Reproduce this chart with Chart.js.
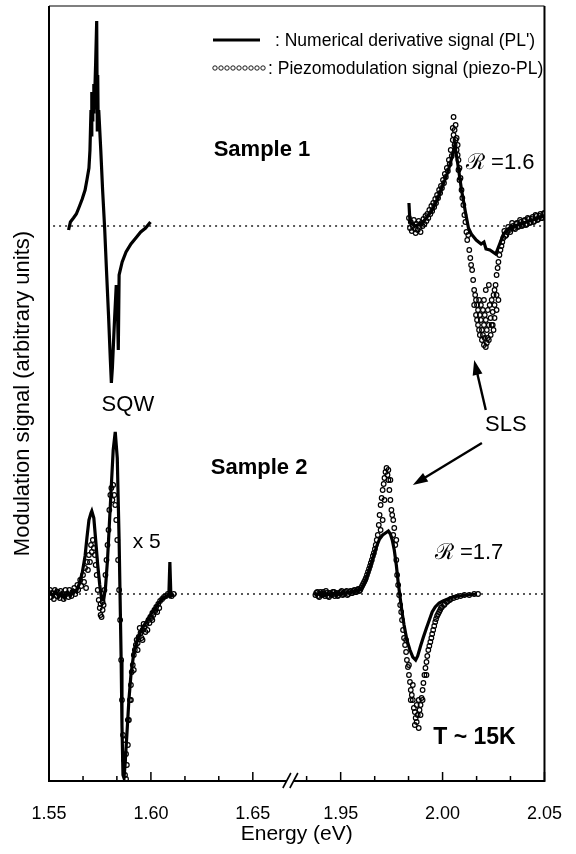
<!DOCTYPE html>
<html>
<head>
<meta charset="utf-8">
<script src="https://cdn.jsdelivr.net/npm/chart.js@4.4.1/dist/chart.umd.min.js"></script>
<style>
  html, body { margin: 0; padding: 0; background: #fff; }
  #wrap { width: 576px; height: 854px; position: relative; }
</style>
</head>
<body>
<div id="wrap"><canvas id="chart"></canvas></div>
<script>
// energies in eV, signals in arbitrary units measured from each sample's zero line

// Sample 1, SQW: numerical derivative (PL')
const s1SqwE = [
  1.5596, 1.5605, 1.5620, 1.5634, 1.5648, 1.5663, 1.5677, 1.5686, 1.5696, 1.5701,
  1.5706, 1.5708, 1.5710, 1.5713, 1.5715, 1.5718, 1.5720, 1.5723, 1.5725, 1.5729,
  1.5734, 1.5737, 1.5739, 1.5741, 1.5744, 1.5754, 1.5763, 1.5773, 1.5782, 1.5792,
  1.5801, 1.5806, 1.5811, 1.5821, 1.5830, 1.5835, 1.5840, 1.5844, 1.5859, 1.5878,
  1.5902, 1.5926, 1.5950, 1.5974, 1.5998];
const s1SqwDeriv = [
  -0.4, 0.4, 0.8, 1.2, 1.9, 2.7, 3.6, 4.6, 5.8, 7.6,
  11.6, 9.1, 13.4, 10.6, 12.9, 11.4, 14.2, 11.8, 13.6, 16.4,
  20.5, 9.6, 15.1, 10.9, 11.6, 7.6, 3.6, -0.2, -4.4, -8.9,
  -13.4, -15.7, -14.2, -9.6, -5.9, -7.4, -12.4, -4.9, -3.6, -2.6,
  -1.8, -1.2, -0.6, -0.2, 0.4];

// Sample 1, SLS: derivative
const s1SlsE = [
  1.9835, 1.9840, 1.9864, 1.9892, 1.9921, 1.9950, 1.9978, 2.0002, 2.0026, 2.0045,
  2.0060, 2.0074, 2.0093, 2.0112, 2.0127, 2.0141, 2.0165, 2.0189, 2.0203, 2.0213,
  2.0232, 2.0261, 2.0280, 2.0299, 2.0323, 2.0356, 2.0395, 2.0443, 2.0500];
const s1SlsDeriv = [
  2.3, 0.4, 0.0, 0.2, 0.8, 1.6, 2.8, 4.1, 5.4, 6.8,
  8.1, 6.3, 3.6, 1.4, -0.2, -0.8, -1.4, -1.8, -1.6, -2.3,
  -2.4, -2.8, -1.8, -0.8, -0.3, 0.0, 0.3, 0.6, 1.0];

// Sample 1, SLS: piezomodulation (piezo-PL)
const s1SlsPiezoE = [
  1.9835, 1.9840, 1.9844, 1.9849, 1.9854, 1.9859, 1.9864, 1.9868, 1.9873, 1.9878,
  1.9883, 1.9887, 1.9892, 1.9897, 1.9902, 1.9906, 1.9911, 1.9916, 1.9921, 1.9925,
  1.9930, 1.9935, 1.9940, 1.9945, 1.9949, 1.9954, 1.9959, 1.9964, 1.9968, 1.9973,
  1.9978, 1.9983, 1.9988, 1.9992, 1.9997, 2.0002, 2.0007, 2.0011, 2.0016, 2.0021,
  2.0026, 2.0031, 2.0035, 2.0040, 2.0045, 2.0050, 2.0050, 2.0054, 2.0054, 2.0059,
  2.0059, 2.0064, 2.0064, 2.0069, 2.0069, 2.0074, 2.0074, 2.0078, 2.0078, 2.0083,
  2.0083, 2.0088, 2.0093, 2.0097, 2.0102, 2.0107, 2.0112, 2.0117, 2.0121, 2.0126,
  2.0131, 2.0136, 2.0140, 2.0145, 2.0150, 2.0155, 2.0160, 2.0164, 2.0169, 2.0174,
  2.0179, 2.0183, 2.0188, 2.0188, 2.0193, 2.0198, 2.0203, 2.0207, 2.0207, 2.0212,
  2.0212, 2.0217, 2.0222, 2.0227, 2.0231, 2.0236, 2.0241, 2.0246, 2.0250, 2.0255,
  2.0260, 2.0265, 2.0270, 2.0274, 2.0279, 2.0284, 2.0289, 2.0293, 2.0298, 2.0308,
  2.0317, 2.0327, 2.0337, 2.0346, 2.0356, 2.0365, 2.0375, 2.0384, 2.0394, 2.0404,
  2.0413, 2.0423, 2.0432, 2.0442, 2.0451, 2.0461, 2.0470, 2.0480, 2.0489, 2.0499,
  2.0155, 2.0169, 2.0179, 2.0198, 2.0217, 2.0227, 2.0241, 2.0255, 2.0265, 2.0212,
  2.0227, 2.0203, 2.0303, 2.0313, 2.0322, 2.0332, 2.0341, 2.0351, 2.0361, 2.0370,
  2.0380, 2.0389, 2.0399, 2.0409, 2.0418, 2.0428, 2.0437, 2.0447, 2.0456, 2.0466,
  2.0475, 2.0485, 2.0494, 2.0246, 2.0255, 2.0265, 2.0274, 2.0236, 2.0222, 2.0250,
  2.0164, 2.0174, 2.0183, 2.0193, 2.0203];
const s1SlsPiezo = [
  0.8, -0.2, 0.4, -0.5, 0.0, 0.6, -0.3, -0.7, 0.2, -0.4,
  0.5, -0.1, -0.6, 0.3, 0.0, 0.7, 0.2, 1.0, 0.5, 1.2,
  0.8, 1.6, 1.2, 2.0, 1.5, 2.3, 1.9, 2.7, 2.3, 3.1,
  2.8, 3.6, 3.3, 4.0, 3.8, 4.6, 4.3, 5.2, 4.9, 5.8,
  5.5, 6.6, 6.2, 7.6, 7.0, 8.6, 9.8, 9.1, 10.9, 9.6,
  8.1, 10.1, 8.6, 8.8, 7.6, 8.1, 7.1, 6.6, 5.6, 5.8,
  4.6, 4.8, 3.6, 2.8, 2.1, 1.1, 0.4, -0.6, -1.4, -0.9,
  -2.4, -3.2, -3.9, -4.4, -5.4, -6.4, -6.9, -7.4, -7.9, -8.4,
  -7.4, -8.9, -9.4, -7.9, -10.4, -8.4, -9.9, -11.2, -8.9, -12.1,
  -9.4, -10.4, -8.4, -9.9, -7.9, -9.2, -7.4, -8.6, -6.9, -6.4,
  -5.9, -4.9, -4.2, -3.6, -2.9, -2.4, -2.0, -1.6, -1.2, -1.0,
  -0.6, -0.4, -0.2, 0.0, -0.3, 0.3, 0.0, 0.4, 0.1, 0.6,
  0.2, 0.7, 0.4, 0.9, 0.5, 1.0, 0.7, 1.2, 0.8, 1.3,
  -7.9, -9.4, -10.4, -10.9, -11.7, -11.4, -9.9, -7.9, -6.9, -6.4,
  -5.9, -7.4, -0.5, -0.9, -0.1, -0.6, 0.3, -0.2, 0.2, -0.1,
  0.6, 0.0, 0.5, 0.1, 0.8, 0.3, 0.7, 0.4, 1.1, 0.6,
  1.0, 0.8, 1.2, -9.9, -9.2, -8.4, -7.4, -10.9, -11.2, -10.4,
  -8.9, -9.9, -10.9, -11.4, -11.9];

// Sample 2, SQW (x 5): derivative
const s2SqwE = [
  1.5505, 1.5519, 1.5533, 1.5548, 1.5562, 1.5576, 1.5591, 1.5605, 1.5620, 1.5634,
  1.5648, 1.5663, 1.5677, 1.5686, 1.5696, 1.5706, 1.5710, 1.5720, 1.5729, 1.5739,
  1.5749, 1.5758, 1.5768, 1.5777, 1.5787, 1.5796, 1.5806, 1.5815, 1.5825, 1.5835,
  1.5839, 1.5844, 1.5849, 1.5854, 1.5858, 1.5863, 1.5868, 1.5873, 1.5882, 1.5892,
  1.5902, 1.5916, 1.5935, 1.5959, 1.5983, 1.6007, 1.6031, 1.6055, 1.6079, 1.6088,
  1.6093, 1.6098, 1.6112];
const s2SqwDeriv = [
  0.2, -0.2, 0.3, -0.3, 0.1, -0.4, 0.2, -0.2, 0.4, 0.2,
  1.0, 2.1, 3.8, 5.6, 7.4, 8.1, 8.3, 7.6, 5.4, 2.9,
  0.9, -0.5, -0.6, 0.6, 3.4, 6.9, 10.9, 14.4, 16.2, 13.6,
  9.9, 5.4, -0.6, -6.6, -13.1, -18.1, -18.4, -17.1, -14.1, -10.6,
  -8.1, -5.9, -4.4, -3.4, -2.6, -1.8, -1.1, -0.5, -0.2, -0.1,
  3.2, -0.2, 0.0];

// Sample 2, SQW (x 5): piezomodulation
const s2SqwPiezoE = [
  1.5505, 1.5510, 1.5514, 1.5524, 1.5529, 1.5538, 1.5543, 1.5553, 1.5557, 1.5567,
  1.5572, 1.5581, 1.5586, 1.5596, 1.5600, 1.5610, 1.5615, 1.5624, 1.5629, 1.5639,
  1.5643, 1.5653, 1.5658, 1.5667, 1.5672, 1.5677, 1.5682, 1.5687, 1.5691, 1.5696,
  1.5701, 1.5706, 1.5710, 1.5715, 1.5720, 1.5725, 1.5729, 1.5734, 1.5739, 1.5744,
  1.5749, 1.5753, 1.5758, 1.5763, 1.5768, 1.5772, 1.5777, 1.5782, 1.5787, 1.5792,
  1.5796, 1.5801, 1.5806, 1.5811, 1.5815, 1.5820, 1.5825, 1.5830, 1.5835, 1.5839,
  1.5844, 1.5849, 1.5854, 1.5858, 1.5863, 1.5868, 1.5873, 1.5878, 1.5882, 1.5887,
  1.5892, 1.5897, 1.5902, 1.5906, 1.5911, 1.5916, 1.5921, 1.5926, 1.5930, 1.5940,
  1.5949, 1.5959, 1.5968, 1.5978, 1.5988, 1.5997, 1.6007, 1.6017, 1.6026, 1.6036,
  1.6045, 1.6055, 1.6064, 1.6074, 1.6083, 1.6093, 1.6102, 1.6112, 1.5887, 1.5902,
  1.5916, 1.5935, 1.5959, 1.5983, 1.6007, 1.6031, 1.5868, 1.5878, 1.5763, 1.5753,
  1.5935, 1.5945, 1.5954, 1.5964, 1.5973, 1.5993, 1.6002, 1.6012, 1.6021, 1.6041];
const s2SqwPiezo = [
  0.4, -0.3, 0.1, -0.5, 0.4, -0.2, 0.2, -0.4, 0.3, -0.1,
  -0.5, 0.4, 0.0, -0.3, 0.4, -0.2, 0.2, 0.6, 0.0, 0.9,
  0.4, 1.4, 0.8, 1.9, 1.2, 2.6, 0.6, 3.2, 2.4, 3.9,
  3.2, 4.9, 4.2, 5.4, 4.6, 3.9, 2.9, 1.9, 0.4, -0.6,
  -1.4, -2.1, -2.3, -1.6, -1.1, 0.4, 1.9, 3.4, 4.9, 6.4,
  8.4, 9.9, 10.6, 9.4, 10.9, 9.9, 8.9, 7.4, 5.4, 3.4,
  0.4, -2.6, -6.6, -10.6, -14.1, -16.6, -18.1, -18.5, -17.1, -15.1,
  -12.6, -10.6, -9.1, -7.8, -7.1, -6.1, -5.6, -5.1, -4.6, -4.3,
  -3.9, -3.6, -3.3, -3.0, -2.6, -2.3, -1.9, -1.6, -1.3, -1.0,
  -0.7, -0.5, -0.3, -0.2, 0.0, -0.1, -0.2, 0.0, -12.6, -10.6,
  -7.6, -5.6, -4.6, -3.6, -2.6, -1.8, -14.6, -16.0, -0.8, -1.0,
  -4.9, -3.4, -4.4, -3.0, -3.8, -2.9, -2.4, -2.1, -1.7, -1.4];

// Sample 2, SLS: derivative
const s2SlsE = [
  1.9376, 1.9395, 1.9414, 1.9433, 1.9452, 1.9471, 1.9490, 1.9510, 1.9529, 1.9548,
  1.9567, 1.9586, 1.9605, 1.9620, 1.9634, 1.9648, 1.9663, 1.9677, 1.9691, 1.9706,
  1.9720, 1.9734, 1.9744, 1.9753, 1.9763, 1.9773, 1.9782, 1.9792, 1.9801, 1.9811,
  1.9825, 1.9840, 1.9854, 1.9868, 1.9878, 1.9892, 1.9906, 1.9921, 1.9935, 1.9949,
  1.9964, 1.9983, 2.0002, 2.0026, 2.0050, 2.0083, 2.0121, 2.0169];
const s2SlsDeriv = [
  -0.2, 0.1, -0.2, 0.0, -0.1, 0.1, 0.0, 0.1, 0.1, 0.2,
  0.3, 0.4, 0.6, 1.2, 2.0, 2.9, 3.9, 4.8, 5.5, 5.9,
  6.1, 6.3, 6.0, 5.4, 4.4, 2.9, 1.2, -0.4, -1.8, -3.1,
  -4.6, -5.6, -6.3, -6.6, -6.2, -5.2, -4.3, -3.4, -2.6, -1.8,
  -1.3, -0.9, -0.7, -0.5, -0.3, -0.2, -0.1, 0.0];

// Sample 2, SLS: piezomodulation
const s2SlsPiezoE = [
  1.9376, 1.9385, 1.9395, 1.9404, 1.9414, 1.9423, 1.9433, 1.9443, 1.9452, 1.9462,
  1.9471, 1.9481, 1.9490, 1.9500, 1.9510, 1.9519, 1.9529, 1.9538, 1.9548, 1.9557,
  1.9567, 1.9577, 1.9586, 1.9596, 1.9605, 1.9615, 1.9624, 1.9634, 1.9644, 1.9653,
  1.9663, 1.9672, 1.9682, 1.9687, 1.9691, 1.9696, 1.9701, 1.9706, 1.9711, 1.9715,
  1.9720, 1.9725, 1.9730, 1.9734, 1.9739, 1.9744, 1.9749, 1.9753, 1.9758, 1.9763,
  1.9768, 1.9773, 1.9777, 1.9782, 1.9787, 1.9792, 1.9797, 1.9801, 1.9806, 1.9811,
  1.9816, 1.9821, 1.9825, 1.9830, 1.9835, 1.9840, 1.9844, 1.9849, 1.9854, 1.9859,
  1.9864, 1.9868, 1.9873, 1.9878, 1.9883, 1.9887, 1.9892, 1.9897, 1.9902, 1.9906,
  1.9911, 1.9916, 1.9921, 1.9925, 1.9930, 1.9940, 1.9949, 1.9959, 1.9968, 1.9978,
  1.9988, 1.9997, 2.0011, 2.0026, 2.0040, 2.0054, 2.0069, 2.0088, 2.0107, 2.0131,
  2.0155, 2.0174, 1.9696, 1.9706, 1.9715, 1.9734, 1.9744, 1.9758, 1.9773, 1.9844,
  1.9864, 1.9873, 1.9883, 1.9892, 1.9854, 1.9902, 1.9835, 1.9821, 1.9921,
  1.9380, 1.9390, 1.9400, 1.9409, 1.9419, 1.9428, 1.9438, 1.9447, 1.9457, 1.9467,
  1.9476, 1.9486, 1.9495, 1.9505, 1.9514, 1.9524, 1.9533, 1.9543, 1.9553, 1.9562,
  1.9572, 1.9581, 1.9591, 1.9600, 1.9610, 1.9620, 1.9629, 1.9639, 1.9648, 1.9658,
  1.9668, 1.9677, 1.9935, 1.9945, 1.9954, 1.9964, 1.9973, 1.9983, 1.9992, 2.0007,
  2.0021, 2.0035];
const s2SlsPiezo = [
  -0.1, 0.2, -0.3, 0.0, 0.2, -0.2, 0.1, -0.3, 0.0, 0.2,
  -0.2, 0.1, -0.1, 0.2, -0.1, 0.1, 0.3, 0.0, 0.3, 0.1,
  0.4, 0.2, 0.5, 0.4, 0.8, 1.2, 1.6, 2.2, 2.8, 3.4,
  4.1, 4.9, 5.9, 6.9, 7.9, 8.9, 9.6, 10.4, 11.0, 11.6,
  12.2, 12.6, 11.9, 11.4, 10.4, 9.4, 8.4, 7.9, 7.4, 6.6,
  4.9, 3.4, 1.9, 0.9, -0.1, -1.1, -1.8, -2.6, -3.6, -4.4,
  -5.1, -5.8, -6.6, -7.3, -8.1, -8.8, -9.6, -10.1, -10.6, -11.4,
  -11.8, -12.4, -12.8, -12.1, -13.4, -11.6, -11.1, -10.4, -9.6, -8.9,
  -8.1, -7.4, -6.8, -6.2, -5.6, -4.8, -4.0, -3.2, -2.5, -2.0,
  -1.6, -1.3, -1.0, -0.7, -0.5, -0.4, -0.3, -0.2, -0.1, -0.1,
  0.0, 0.0, 6.4, 7.4, 9.4, 12.4, 11.4, 5.9, 5.4, -10.6,
  -13.1, -11.1, -10.6, -12.1, -9.1, -10.6, -7.1, -4.6, -8.1,
  0.1, -0.2, 0.2, -0.1, 0.0, 0.3, -0.2, 0.1, -0.1, 0.2,
  0.0, -0.2, 0.1, 0.3, 0.0, 0.2, -0.1, 0.2, 0.1, 0.3,
  0.2, 0.4, 0.3, 0.6, 1.0, 1.4, 1.9, 2.5, 3.1, 3.8,
  4.5, 5.4, -5.2, -4.4, -3.6, -2.8, -2.2, -1.8, -1.4, -1.1,
  -0.8, -0.6];

// where each sample's zero line sits on the shared vertical axis
const sample1Zero = 35.5;
const sample2Zero = -1.3;

// x axis: labelled ticks, minor ticks, and the cut between 1.6667 and 1.9333 eV
const tickE      = [1.55, 1.60, 1.65, 1.95, 2.00, 2.05];
const tickLabels = ['1.55', '1.60', '1.65', '1.95', '2.00', '2.05'];
const minorE     = [1.5667, 1.5833, 1.6167, 1.6333, 1.9333, 1.9667, 1.9833, 2.0167, 2.0333];
const breakLo = 1.6667, breakHi = 1.9333, gapWidth = 0.0097;
const shift = breakHi - breakLo - gapWidth;

// energy -> position on the compressed (broken) axis
function toU(e) { return e > 1.8 ? e - shift : e; }

function pts(es, vs, zero) {
  return es.map((e, i) => ({ x: toU(e), y: vs[i] + zero }));
}

const FONT = "'Liberation Sans', Arial, Helvetica, sans-serif";
Chart.defaults.font.family = FONT;
Chart.defaults.color = '#000';

const circles = (data) => ({
  data, showLine: false,
  pointRadius: 2.3, pointBorderWidth: 1.2,
  pointBorderColor: '#000', pointBackgroundColor: 'rgba(255,255,255,0)'
});
const solid = (data) => ({
  data, showLine: true, borderColor: '#000', borderWidth: 3.2,
  pointRadius: 0, tension: 0
});
const zeroLine = (data) => ({
  data, showLine: true, borderColor: '#222', borderWidth: 1.3,
  borderDash: [2, 4], pointRadius: 0
});

const frame = {
  id: 'frame',
  afterDraw(chart) {
    const { ctx, chartArea: ca, scales: { x, y } } = chart;
    const X = e => x.getPixelForValue(toU(e));
    const Y = v => y.getPixelForValue(v);
    ctx.save();
    ctx.strokeStyle = '#000';
    ctx.fillStyle = '#000';

    // box
    ctx.lineWidth = 2;
    ctx.beginPath();
    ctx.moveTo(ca.left, ca.top); ctx.lineTo(ca.left, ca.bottom);
    ctx.lineTo(X(breakLo), ca.bottom);
    ctx.moveTo(X(breakLo) + 7, ca.bottom); ctx.lineTo(ca.right, ca.bottom);
    ctx.lineTo(ca.right, ca.top);
    ctx.stroke();
    ctx.lineWidth = 1.2;
    ctx.beginPath(); ctx.moveTo(ca.left, ca.top); ctx.lineTo(ca.right, ca.top); ctx.stroke();

    // break marks
    ctx.lineWidth = 1.6;
    [0, 7].forEach(d => {
      const bx = X(breakLo) + d;
      ctx.beginPath(); ctx.moveTo(bx - 4, ca.bottom + 7); ctx.lineTo(bx + 4, ca.bottom - 8); ctx.stroke();
    });

    // inward ticks
    ctx.lineWidth = 1.5;
    tickE.forEach(e => { ctx.beginPath(); ctx.moveTo(X(e), ca.bottom); ctx.lineTo(X(e), ca.bottom - 9); ctx.stroke(); });
    minorE.forEach(e => { ctx.beginPath(); ctx.moveTo(X(e), ca.bottom); ctx.lineTo(X(e), ca.bottom - 5); ctx.stroke(); });

    // legend
    ctx.lineWidth = 3;
    ctx.beginPath(); ctx.moveTo(ca.left + 164, ca.top + 34); ctx.lineTo(ca.left + 211, ca.top + 34); ctx.stroke();
    ctx.lineWidth = 0.9;
    for (let k = 0; k < 9; k++) {
      ctx.beginPath(); ctx.arc(ca.left + 166 + k * 6, ca.top + 62, 2.2, 0, Math.PI * 2); ctx.stroke();
    }
    ctx.textBaseline = 'middle';
    ctx.textAlign = 'left';
    ctx.font = '17.5px ' + FONT;
    ctx.fillText(": Numerical derivative signal (PL')", ca.left + 226, ca.top + 35);
    ctx.fillText(': Piezomodulation signal (piezo-PL)', ca.left + 219, ca.top + 63);

    // annotations
    const txt = (s, e, v, font, align) => {
      ctx.font = font; ctx.textAlign = align; ctx.fillText(s, X(e), Y(v));
    };
    const bold = 'bold 22px ' + FONT, reg = '22px ' + FONT;
    txt('Sample 1', 1.6308, 43.1, bold, 'left');
    txt('Sample 2', 1.6294, 11.3, bold, 'left');
    txt('SQW', 1.5887, 17.6, reg, 'center');
    txt('SLS', 2.0310, 15.6, reg, 'center');
    txt('x 5', 1.5911, 3.9, '21px ' + FONT, 'left');
    txt('ℛ =1.6', 2.0451, 41.8, reg, 'right');
    txt('ℛ =1.7', 2.0298, 2.8, reg, 'right');
    txt('T ~ 15K', 1.9954, -15.7, 'bold 23px ' + FONT, 'left');

    // arrows pointing at the SLS features
    const arrow = (e0, v0, e1, v1) => {
      const x0 = X(e0), y0 = Y(v0), x1 = X(e1), y1 = Y(v1);
      const a = Math.atan2(y1 - y0, x1 - x0), L = 15, W = 5;
      ctx.lineWidth = 2.4;
      ctx.beginPath(); ctx.moveTo(x0, y0);
      ctx.lineTo(x1 - L * 0.8 * Math.cos(a), y1 - L * 0.8 * Math.sin(a)); ctx.stroke();
      ctx.beginPath(); ctx.moveTo(x1, y1);
      ctx.lineTo(x1 - L * Math.cos(a) + W * Math.sin(a), y1 - L * Math.sin(a) - W * Math.cos(a));
      ctx.lineTo(x1 - L * Math.cos(a) - W * Math.sin(a), y1 - L * Math.sin(a) + W * Math.cos(a));
      ctx.closePath(); ctx.fill();
    };
    arrow(2.0212, 17.1, 2.0155, 22.1);
    arrow(2.0193, 13.8, 1.9854, 9.6);

    ctx.restore();
  }
};

new Chart(document.getElementById('chart'), {
  type: 'scatter',
  data: {
    datasets: [
      circles(pts(s1SlsPiezoE, s1SlsPiezo, sample1Zero)),
      circles(pts(s2SqwPiezoE, s2SqwPiezo, sample2Zero)),
      circles(pts(s2SlsPiezoE, s2SlsPiezo, sample2Zero)),
      solid(pts(s1SqwE, s1SqwDeriv, sample1Zero)),
      solid(pts(s1SlsE, s1SlsDeriv, sample1Zero)),
      solid(pts(s2SqwE, s2SqwDeriv, sample2Zero)),
      solid(pts(s2SlsE, s2SlsDeriv, sample2Zero)),
      zeroLine(pts([1.552, 2.05], [0, 0], sample1Zero)),
      zeroLine(pts([1.55, 2.05], [0, 0], sample2Zero))
    ]
  },
  options: {
    responsive: true,
    maintainAspectRatio: false,
    animation: false,
    events: [],
    layout: { padding: { left: 0, top: 6, right: 19, bottom: 0 } },
    plugins: { legend: { display: false }, tooltip: { enabled: false } },
    scales: {
      x: {
        type: 'linear',
        min: 1.55,
        max: toU(2.05),
        grid: { display: false },
        border: { display: false },
        afterBuildTicks: s => { s.ticks = tickE.map(e => ({ value: toU(e) })); },
        afterFit: s => { s.height = 73; },
        ticks: {
          autoSkip: false, maxRotation: 0, padding: 14,
          font: { size: 18 },
          callback: (v, i) => tickLabels[i]
        },
        title: { display: true, text: 'Energy (eV)', font: { size: 21 }, padding: { top: 4, bottom: 7 } }
      },
      y: {
        min: -20,
        max: 57.5,
        grid: { display: false },
        border: { display: false },
        ticks: { display: false },
        afterFit: s => { s.width = 49; },
        title: { display: true, text: 'Modulation signal (arbitrary units)', font: { size: 22 }, padding: { top: 10, bottom: 4 } }
      }
    }
  },
  plugins: [frame]
});
</script>
</body>
</html>
